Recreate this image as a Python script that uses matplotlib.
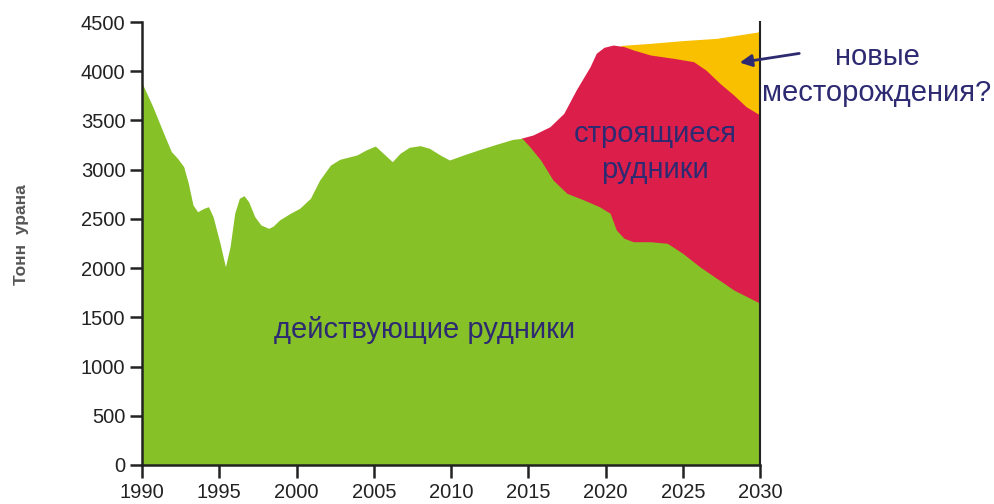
import matplotlib
matplotlib.use("Agg")
import matplotlib.pyplot as plt

# --- data (tonnes of uranium) ---
# действующие рудники (operating mines)
active_years = [1990.0, 1990.7, 1991.4, 1991.9, 1992.3, 1992.7, 1993.0, 1993.3, 1993.6,
                1994.0, 1994.3, 1994.6, 1995.05, 1995.4, 1995.7, 1996.0, 1996.3, 1996.6,
                1996.9, 1997.3, 1997.7, 1998.2, 1998.5, 1998.9, 1999.6, 2000.2, 2000.9,
                2001.5, 2002.2, 2002.8, 2003.9, 2004.5, 2005.1, 2005.5, 2006.2, 2006.7,
                2007.3, 2008.0, 2008.6, 2009.3, 2009.9, 2010.8, 2011.9, 2013.0, 2014.0,
                2014.6, 2015.1, 2015.8, 2016.6, 2017.5, 2018.6, 2019.6, 2020.3, 2020.7,
                2021.2, 2021.8, 2022.9, 2024.0, 2025.0, 2026.1, 2027.2, 2028.3, 2030.0]
active_vals = [3880, 3640, 3369, 3183, 3115, 3030, 2861, 2641, 2573,
               2607, 2624, 2522, 2252, 2014, 2218, 2557, 2709, 2736,
               2675, 2522, 2438, 2404, 2428, 2489, 2557, 2607, 2709,
               2895, 3047, 3105, 3149, 3200, 3240, 3183, 3081, 3166,
               3227, 3244, 3217, 3149, 3098, 3149, 3207, 3261, 3308,
               3318, 3233, 3098, 2895, 2760, 2692, 2624, 2557, 2387,
               2303, 2268, 2268, 2252, 2150, 2014, 1896, 1778, 1643]

# + строящиеся рудники (mines under construction), cumulative top
build_years = [2014.5, 2015.3, 2016.4, 2017.3, 2018.1, 2019.0, 2019.4, 2019.9, 2020.5,
               2021.2, 2021.8, 2022.9, 2024.4, 2025.7, 2026.5, 2027.4, 2028.3, 2029.1, 2030.0]
build_top = [3318, 3352, 3436, 3572, 3809, 4046, 4182, 4243, 4266,
             4250, 4216, 4165, 4131, 4097, 4012, 3877, 3758, 3640, 3555]

# + новые месторождения (new deposits), cumulative top
new_years = [2021.0, 2022.9, 2025.0, 2027.2, 2030.0]
new_top = [4262, 4283, 4311, 4334, 4402]

year_ticks = list(range(1990, 2031, 5))
val_ticks = list(range(0, 4501, 500))

green = "#86c128"
red = "#dc1f4a"
yellow = "#f9c000"
navy = "#2d2a72"

plt.rcParams['font.family'] = ['Liberation Sans', 'DejaVu Sans']

fig = plt.figure(figsize=(9.95, 5.04), dpi=100)
ax = fig.add_axes([142 / 995, 1 - 465 / 504, (760 - 142) / 995, (465 - 22) / 504])

# layers drawn back to front, each filled from zero
ax.fill_between(new_years, 0, new_top, color=yellow, linewidth=0)
ax.fill_between(build_years, 0, build_top, color=red, linewidth=0)
ax.fill_between(active_years, 0, active_vals, color=green, linewidth=0)

ax.set_xlim(1990, 2030)
ax.set_ylim(0, 4500)
ax.set_xticks(year_ticks)
ax.set_yticks(val_ticks)
ax.tick_params(axis='both', direction='out', length=9, width=1.8, color='#222222',
               labelsize=14.5, labelcolor='#222222', pad=3)
ax.tick_params(axis='x', pad=4)
ax.spines['top'].set_visible(False)
for side in ['left', 'bottom', 'right']:
    ax.spines[side].set_linewidth(1.8)
    ax.spines[side].set_color('#222222')
ax.spines['right'].set_linewidth(1.5)

ax.text(2008.3, 1371, 'действующие рудники', color=navy, fontsize=21,
        ha='center', va='center')
ax.text(2023.2, 3180, 'строящиеся\nрудники', color=navy, fontsize=21,
        ha='center', va='center', multialignment='center', linespacing=1.35)
fig.text(877 / 995, 1 - 75 / 504, 'новые\nместорождения?', color=navy, fontsize=21,
         ha='center', va='center', multialignment='center', linespacing=1.35)

ax.annotate('', xy=(737 / 995, 1 - 63 / 504), xycoords='figure fraction',
            xytext=(802 / 995, 1 - 53 / 504), textcoords='figure fraction',
            arrowprops=dict(arrowstyle='-|>', color=navy, lw=2, mutation_scale=18),
            annotation_clip=False)

fig.text(22 / 995, 1 - 235 / 504, 'Тонн  урана', rotation=90, fontsize=12.5,
         fontweight='bold', color='#555555', ha='center', va='center')

fig.savefig('out.png', dpi=100)
plt.close(fig)
